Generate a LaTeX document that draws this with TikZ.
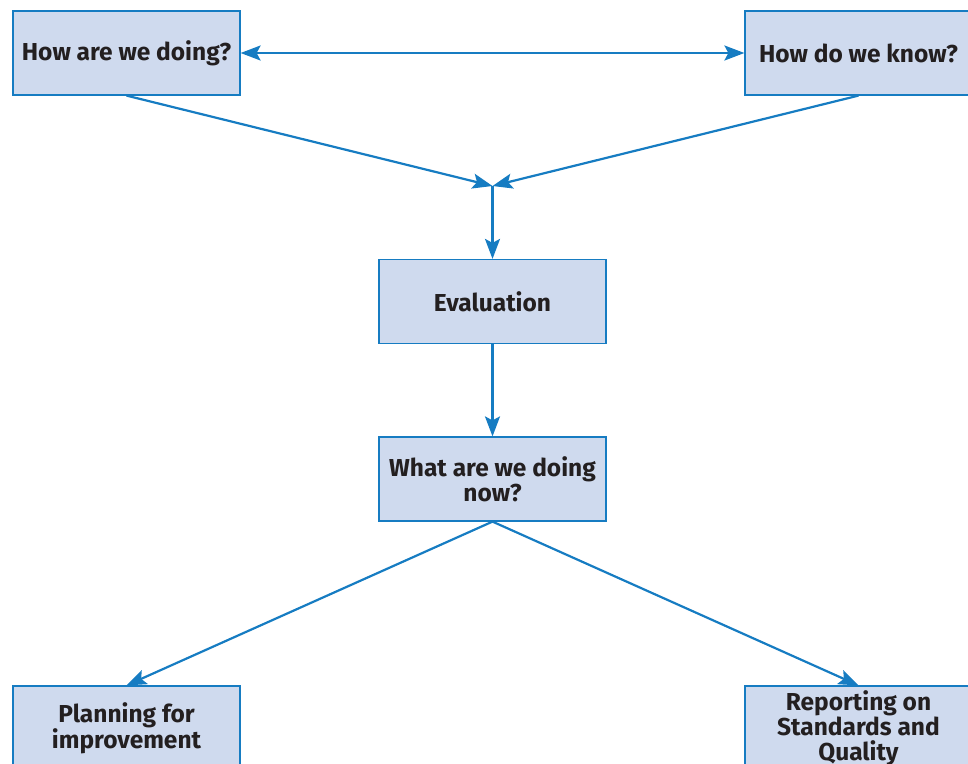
\documentclass[tikz,border=0pt]{standalone}
\usepackage{fontspec}
\setmainfont{Fira Sans}
\usetikzlibrary{arrows.meta}
\definecolor{boxfill}{RGB}{207,218,238}
\definecolor{blueline}{RGB}{22,124,194}
\definecolor{txt}{RGB}{35,31,32}
\tikzset{
  qbox/.style={draw=blueline, line width=1.2pt, fill=boxfill, minimum width=227pt, minimum height=84pt, inner sep=0pt, align=center, text=txt, font=\fontsize{24.5}{25}\selectfont\bfseries},
  conn/.style={draw=blueline, line width=2.2pt, -{Stealth[length=20pt,width=15pt,inset=4pt]}},
  dconn/.style={draw=blueline, line width=2.2pt, {Stealth[length=20pt,width=15pt,inset=4pt]}-{Stealth[length=20pt,width=15pt,inset=4pt]}}
}
\begin{document}
\begin{tikzpicture}[x=1pt,y=-1pt]
\useasboundingbox (0,0) rectangle (968,763);
\clip (0,0) rectangle (968,763);
\node[qbox] (how) at (126.5,53) {How are we doing?};
\node[qbox] (know) at (858.5,53) {How do we know?};
\node[qbox] (eval) at (492.5,301.5) {Evaluation};
\node[qbox] (what) at (492.5,479) {What are we doing\\now?};
\node[qbox] (plan) at (126.5,728) {Planning for\\improvement};
\node[qbox] (report) at (858.5,728) {Reporting on\\Standards and\\Quality};
\coordinate (j) at (492.5,186);
\draw[dconn] (how.east) -- (know.west);
\draw[conn] (how.south) -- (j);
\draw[conn] (know.south) -- (j);
\draw[conn] (j) -- (eval.north);
\draw[conn] (eval.south) -- (what.north);
\draw[conn] (what.south) -- (plan.north);
\draw[conn] (what.south) -- (report.north);
\end{tikzpicture}
\end{document}
